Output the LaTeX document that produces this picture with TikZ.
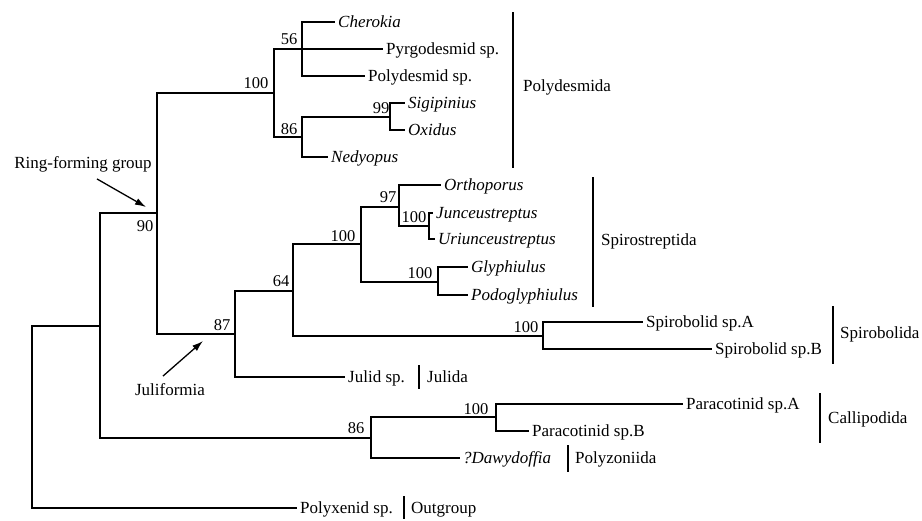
\documentclass[tikz,border=0pt]{standalone}
\usepackage{fontspec}
\setmainfont{Liberation Serif}
\usetikzlibrary{arrows.meta}
\begin{document}
\begin{tikzpicture}[x=1pt,y=-1pt,
  br/.style={line width=1.3pt},
  bar/.style={line width=1.3pt},
  leaf/.style={anchor=west, inner xsep=3pt, inner ysep=0pt, text height=11.5pt, text depth=0pt, font=\fontsize{17}{17}\selectfont},
  itleaf/.style={leaf, font=\fontsize{17}{17}\selectfont\itshape},
  sup/.style={inner sep=0pt, text height=11.5pt, text depth=0pt, font=\fontsize{16.5}{16.5}\selectfont},
  clade/.style={anchor=west, inner sep=0pt, text height=11.5pt, text depth=0pt, font=\fontsize{17}{17}\selectfont},
  note/.style={inner sep=0pt, text height=11.5pt, text depth=0pt, font=\fontsize{17}{17}\selectfont},
  pointer/.style={line width=1.3pt, -{Latex[length=11pt,width=7pt]}}
]
\useasboundingbox (0,0) rectangle (922,520);

% internal nodes
\coordinate (root)   at (32,417);
\coordinate (ninner) at (100,326);
\coordinate (n90)    at (157,213);
\coordinate (n100a)  at (274,93);
\coordinate (n56)    at (302,49);
\coordinate (n86a)   at (302,137);
\coordinate (n99)    at (390,117);
\coordinate (n87)    at (235,334);
\coordinate (n64)    at (293,291);
\coordinate (n100b)  at (361,244);
\coordinate (n97)    at (399,207);
\coordinate (n100c)  at (429,226);
\coordinate (n100d)  at (438,282);
\coordinate (n100e)  at (543,336);
\coordinate (n86b)   at (371,438);
\coordinate (n100f)  at (496,417);

% leaves
\node[itleaf] (cher)  at (335,22)  {Cherokia};
\node[leaf]   (pyrg)  at (383,49)  {Pyrgodesmid sp.};
\node[leaf]   (polyd) at (365,76)  {Polydesmid sp.};
\node[itleaf] (sigi)  at (405,103) {Sigipinius};
\node[itleaf] (oxi)   at (405,130) {Oxidus};
\node[itleaf] (nedy)  at (328,157) {Nedyopus};
\node[itleaf] (ortho) at (441,185) {Orthoporus};
\node[itleaf] (junc)  at (433,213) {Junceustreptus};
\node[itleaf] (uriu)  at (435,239) {Uriunceustreptus};
\node[itleaf] (glyp)  at (468,267) {Glyphiulus};
\node[itleaf] (podo)  at (468,295) {Podoglyphiulus};
\node[leaf]   (spA)   at (643,322) {Spirobolid sp.A};
\node[leaf]   (spB)   at (712,349) {Spirobolid sp.B};
\node[leaf]   (julid) at (345,377) {Julid sp.};
\node[leaf]   (parA)  at (683,404) {Paracotinid sp.A};
\node[leaf]   (parB)  at (529,431) {Paracotinid sp.B};
\node[itleaf] (dawy)  at (460,458) {?Dawydoffia};
\node[leaf]   (polyx) at (297,508) {Polyxenid sp.};

% branches
\draw[br] (root) |- (ninner);
\draw[br] (root) |- (polyx.west);
\draw[br] (ninner) |- (n90);
\draw[br] (ninner) |- (n86b);
\draw[br] (n90) |- (n100a);
\draw[br] (n90) |- (n87);
\draw[br] (n100a) |- (n56);
\draw[br] (n100a) |- (n86a);
\draw[br] (n56) |- (cher.west);
\draw[br] (n56) -- (pyrg.west);
\draw[br] (n56) |- (polyd.west);
\draw[br] (n86a) |- (n99);
\draw[br] (n86a) |- (nedy.west);
\draw[br] (n99) |- (sigi.west);
\draw[br] (n99) |- (oxi.west);
\draw[br] (n87) |- (n64);
\draw[br] (n87) |- (julid.west);
\draw[br] (n64) |- (n100b);
\draw[br] (n64) |- (n100e);
\draw[br] (n100b) |- (n97);
\draw[br] (n100b) |- (n100d);
\draw[br] (n97) |- (ortho.west);
\draw[br] (n97) |- (n100c);
\draw[br] (n100c) |- (junc.west);
\draw[br] (n100c) |- (uriu.west);
\draw[br] (n100d) |- (glyp.west);
\draw[br] (n100d) |- (podo.west);
\draw[br] (n100e) |- (spA.west);
\draw[br] (n100e) |- (spB.west);
\draw[br] (n86b) |- (n100f);
\draw[br] (n86b) |- (dawy.west);
\draw[br] (n100f) |- (parA.west);
\draw[br] (n100f) |- (parB.west);

% support values
\node[sup] (s100a) at (256,83)  {100};
\node[sup] (s56)   at (289,39)  {56};
\node[sup] (s86a)  at (289,129) {86};
\node[sup] (s99)   at (381,108) {99};
\node[sup] (s90)   at (145,226) {90};
\node[sup] (s97)   at (388,197) {97};
\node[sup] (s100c) at (414,217) {100};
\node[sup] (s100b) at (343,236) {100};
\node[sup] (s100d) at (420,273) {100};
\node[sup] (s64)   at (281,281) {64};
\node[sup] (s87)   at (222,325) {87};
\node[sup] (s100e) at (526,327) {100};
\node[sup] (s86b)  at (356,428) {86};
\node[sup] (s100f) at (476,409) {100};

% clade bars
\coordinate (pdT) at (513,12);  \coordinate (pdB) at (513,168);
\draw[bar] (pdT) -- (pdB);
\node[clade] (pd) at (523,86) {Polydesmida};
\coordinate (ssT) at (593,177); \coordinate (ssB) at (593,307);
\draw[bar] (ssT) -- (ssB);
\node[clade] (ss) at (601,240) {Spirostreptida};
\coordinate (sbT) at (833,306); \coordinate (sbB) at (833,364);
\draw[bar] (sbT) -- (sbB);
\node[clade] (sb) at (840,333) {Spirobolida};
\coordinate (juT) at (419,365); \coordinate (juB) at (419,389);
\draw[bar] (juT) -- (juB);
\node[clade] (ju) at (427,377) {Julida};
\coordinate (caT) at (820,393); \coordinate (caB) at (820,443);
\draw[bar] (caT) -- (caB);
\node[clade] (ca) at (828,418) {Callipodida};
\coordinate (pzT) at (568,445); \coordinate (pzB) at (568,472);
\draw[bar] (pzT) -- (pzB);
\node[clade] (pz) at (575,458) {Polyzoniida};
\coordinate (ogT) at (404,496); \coordinate (ogB) at (404,519);
\draw[bar] (ogT) -- (ogB);
\node[clade] (og) at (411,508) {Outgroup};

% annotations
\node[note] (ring) at (83,163) {Ring-forming group};
\coordinate (ringhead) at (146,207);
\draw[pointer] ([xshift=14pt,yshift=-10pt]ring.south) -- (ringhead);
\node[note] (juli) at (170,390) {Juliformia};
\coordinate (julihead) at (203,341);
\draw[pointer] ([xshift=-7pt,yshift=8pt]juli.north) -- (julihead);
\end{tikzpicture}
\end{document}
